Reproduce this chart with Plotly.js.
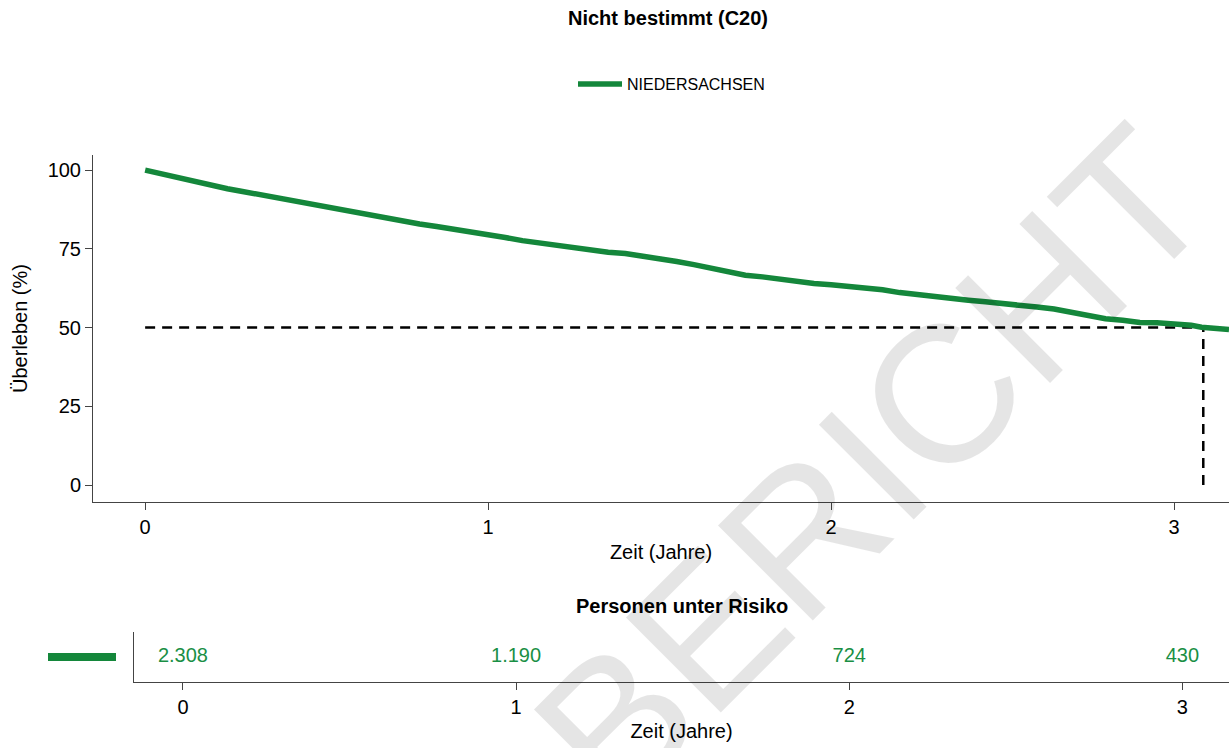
<!DOCTYPE html>
<html>
<head>
<meta charset="utf-8">
<script src="https://cdn.plot.ly/plotly-3.0.1.min.js"></script>
<style>
  html, body { margin: 0; padding: 0; background: #fff; }
  #chart { width: 1229px; height: 748px; }
</style>
</head>
<body>
<div id="chart"></div>
<script>
// ---- data ----
const seriesName = 'NIEDERSACHSEN';
const timeYears = [0, 0.02, 0.05, 0.08, 0.11, 0.14, 0.17, 0.20, 0.24, 0.28, 0.32, 0.36, 0.40, 0.44, 0.48,
  0.52, 0.56, 0.60, 0.64, 0.68, 0.72, 0.76, 0.80, 0.85, 0.90, 0.95, 1.00, 1.05, 1.10, 1.15, 1.20,
  1.25, 1.30, 1.35, 1.40, 1.45, 1.50, 1.55, 1.60, 1.65, 1.70, 1.75, 1.80, 1.85, 1.90, 1.95, 2.00,
  2.05, 2.10, 2.15, 2.20, 2.25, 2.30, 2.35, 2.40, 2.45, 2.50, 2.55, 2.60, 2.65, 2.70, 2.75, 2.80,
  2.85, 2.90, 2.95, 3.00, 3.05, 3.08, 3.12, 3.16];
const survivalPct = [100, 99.5, 98.6, 97.8, 97.0, 96.3, 95.7, 95.0, 94.1, 93.3, 92.5, 91.6, 90.6, 89.9, 89.2,
  88.4, 87.7, 86.9, 86.0, 85.4, 84.6, 83.7, 82.9, 82.1, 81.3, 80.4, 79.6, 78.6, 77.6, 76.9, 75.9,
  75.1, 74.5, 73.9, 73.5, 72.8, 71.8, 71.0, 70.0, 68.8, 67.8, 66.6, 66.1, 65.4, 64.5, 64.0, 63.6,
  63.2, 62.7, 62.0, 61.1, 60.4, 59.8, 59.2, 58.7, 58.2, 57.5, 56.9, 56.5, 55.9, 54.8, 53.5, 52.8,
  52.3, 51.6, 51.5, 51.3, 50.7, 50.1, 49.7, 49.4];
const medianSurvival = 50;
const medianTime = 3.085;
const riskTimes = [0, 1, 2, 3];
const riskCounts = ['2.308', '1.190', '724', '430'];
const xTickVals = [0, 1, 2, 3];
const yTickVals = [0, 25, 50, 75, 100];

// ---- style ----
const green = '#14873b';
const font = 'Liberation Sans, Arial, sans-serif';
const axisLine = '#444';

const traces = [
  {
    x: [0, medianTime], y: [medianSurvival, medianSurvival],
    xaxis: 'x', yaxis: 'y', mode: 'lines', showlegend: false, hoverinfo: 'skip',
    line: { color: '#000', width: 2.5, dash: '10px,7px' }
  },
  {
    x: [medianTime, medianTime], y: [0, medianSurvival],
    xaxis: 'x', yaxis: 'y', mode: 'lines', showlegend: false, hoverinfo: 'skip',
    line: { color: '#000', width: 2.5, dash: '10px,7px' }
  },
  {
    x: timeYears, y: survivalPct, name: seriesName,
    xaxis: 'x', yaxis: 'y', mode: 'lines', line: { color: green, width: 5.5, shape: 'linear' }
  },
  {
    x: riskTimes, y: riskTimes.map(() => 0.5), text: riskCounts,
    xaxis: 'x2', yaxis: 'y2', mode: 'text', showlegend: false,
    textposition: 'middle center', textfont: { family: font, size: 20, color: '#1a8f45' }
  }
];

const W = 1229, H = 748;
const layout = {
  width: W, height: H,
  margin: { l: 0, r: 0, t: 0, b: 0 },
  paper_bgcolor: '#fff', plot_bgcolor: 'rgba(0,0,0,0)',
  font: { family: font, size: 20, color: '#000' },
  title: {
    text: '<b>Nicht bestimmt (C20)</b>', font: { family: font, size: 20, color: '#000' },
    x: 668 / W, xanchor: 'center', y: 1 - 18 / H, yanchor: 'middle', xref: 'paper', yref: 'container'
  },
  showlegend: true,
  legend: {
    orientation: 'h', x: 573 / W, xanchor: 'left', y: 1 - 84 / H, yanchor: 'middle',
    itemwidth: 44,
    font: { family: font, size: 16, color: '#000' }, bgcolor: 'rgba(0,0,0,0)'
  },
  xaxis: {
    domain: [93 / W, 1], range: [-0.152, 3.16], anchor: 'y',
    tickvals: xTickVals, ticks: 'outside', ticklen: 7, tickcolor: axisLine,
    showline: true, linecolor: axisLine, linewidth: 1, showgrid: false, zeroline: false,
    tickfont: { size: 20 },
    title: { text: 'Zeit (Jahre)', font: { size: 20 }, standoff: 7 }
  },
  yaxis: {
    domain: [1 - 502 / H, 1 - 155 / H], range: [-5.4, 104.8], anchor: 'x',
    tickvals: yTickVals, ticks: 'outside', ticklen: 7, tickcolor: axisLine,
    showline: true, linecolor: axisLine, linewidth: 1, showgrid: false, zeroline: false,
    tickfont: { size: 20 },
    title: { text: 'Überleben (%)', font: { size: 20 }, standoff: 14 }
  },
  xaxis2: {
    domain: [134 / W, 1], range: [-0.147, 3.14], anchor: 'y2',
    tickvals: xTickVals, ticks: 'outside', ticklen: 7, tickcolor: axisLine,
    showline: true, linecolor: axisLine, linewidth: 1, showgrid: false, zeroline: false,
    tickfont: { size: 20 },
    title: { text: 'Zeit (Jahre)', font: { size: 20 }, standoff: 6 }
  },
  yaxis2: {
    domain: [1 - 682 / H, 1 - 632 / H], range: [0, 1], anchor: 'x2',
    showticklabels: false, ticks: '', showline: true, linecolor: axisLine, linewidth: 1,
    showgrid: false, zeroline: false
  },
  shapes: [
    { type: 'line', xref: 'paper', yref: 'paper', x0: 48 / W, x1: 116 / W, y0: 1 - 657 / H, y1: 1 - 657 / H,
      line: { color: green, width: 8 } }
  ],
  annotations: [
    { text: '<b>Personen unter Risiko</b>', xref: 'paper', yref: 'paper', x: 682 / W, y: 1 - 606 / H,
      xanchor: 'center', yanchor: 'middle', showarrow: false, font: { family: font, size: 20, color: '#000' } },
    { text: 'BERICHT', xref: 'paper', yref: 'paper', x: 872 / W, y: 1 - 465 / H,
      xanchor: 'center', yanchor: 'middle', showarrow: false, textangle: -45,
      font: { family: font, size: 195, color: 'rgba(0,0,0,0.10)' } }
  ]
};

Plotly.newPlot('chart', traces, layout, { displayModeBar: false, staticPlot: true });
</script>
</body>
</html>
